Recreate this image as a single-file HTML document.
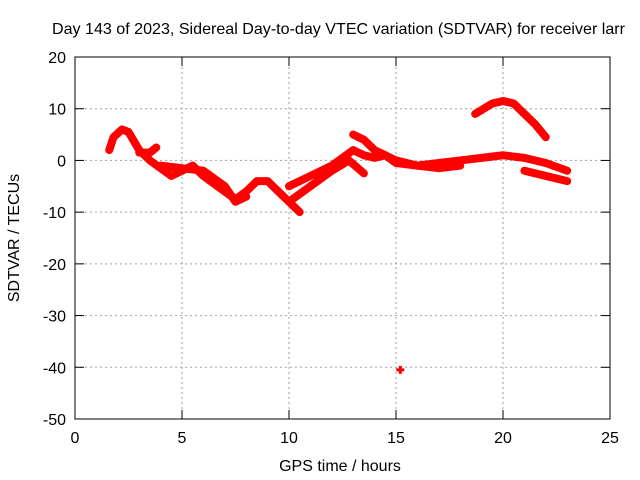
<!DOCTYPE html>
<html><head><meta charset="utf-8"><style>
body{margin:0;background:#fff}
svg{display:block;font-family:"Liberation Sans",sans-serif}
</style></head><body>
<svg id="chart" width="640" height="480" viewBox="0 0 640 480">
<rect width="640" height="480" fill="#fff"/>
<text x="52" y="34" font-size="16" textLength="573" lengthAdjust="spacingAndGlyphs">Day 143 of 2023, Sidereal Day-to-day VTEC variation (SDTVAR) for receiver larr</text>
<g id="grid"></g>
<g id="ticks" font-size="16"></g>
<g id="series"></g>
<rect x="75" y="57" width="535" height="362" fill="none" stroke="#000" stroke-width="1"/>
<text x="340" y="471" text-anchor="middle" font-size="16">GPS time / hours</text>
<text transform="translate(19,238) rotate(-90)" text-anchor="middle" font-size="16">SDTVAR / TECUs</text>
</svg>
<script>
const xTicks=[0,5,10,15,20,25];
const yTicks=[20,10,0,-10,-20,-30,-40,-50];
const trackA=[[1.6,2],[1.8,4.5],[2.2,6],[2.5,5.5],[3,2],[3.5,0],[4,-1.5],[4.5,-3],[5,-2],[5.5,-1],[6,-3],[6.5,-4.5],[7,-6],[7.5,-7.5],[8,-6],[8.5,-4],[9,-4],[9.5,-6],[10,-8],[10.5,-10]];
const trackB=[[3,1.5],[3.5,1.5],[3.8,2.5]];
const trackC=[[4,-1],[5,-1.5],[6,-2],[6.5,-3.5],[7,-5],[7.5,-8],[8,-7]];
const trackD=[[10,-5],[11,-3],[12,-1],[12.5,0.5],[13,2],[13.5,1],[14,0.5],[14.5,1],[15,-0.5],[16,-1],[17,-0.5],[18,0],[19,0.5],[20,1],[21,0.5],[22,-0.5],[23,-2]];
const trackE=[[10,-8],[11,-5],[12,-2],[12.8,0],[13.5,-2.5]];
const trackF=[[13,5],[13.5,4],[14,2],[14.5,1],[15,0],[16,-1],[17,-1.5],[18,-1]];
const trackG=[[21,-2],[22,-3],[23,-4]];
const trackH=[[18.7,9],[19.5,11],[20,11.5],[20.5,11],[21,9],[21.5,7],[22,4.5]];
const outlier=[[15.2,-40.5]];
const tracks=[trackA,trackB,trackC,trackD,trackE,trackF,trackG,trackH];
const X=h=>75+h*535/25, Y=v=>57+(20-v)*362/70;
const NS="http://www.w3.org/2000/svg";
const g=document.getElementById('grid'),t=document.getElementById('ticks'),s=document.getElementById('series');
function mk(tag,at,p){const e=document.createElementNS(NS,tag);for(const k in at)e.setAttribute(k,at[k]);p.appendChild(e);return e;}
xTicks.forEach(v=>{const x=X(v);
 if(v>0&&v<25){const l=mk('line',{x1:x,x2:x,y1:57,y2:419,stroke:'#a0a0a0','stroke-dasharray':'2,3'},g);
 
 }
 mk('line',{x1:x,x2:x,y1:419,y2:410,stroke:'#000'},t);mk('line',{x1:x,x2:x,y1:57,y2:66,stroke:'#000'},t);
 const tx=mk('text',{x:x,y:443,'text-anchor':'middle'},t);tx.textContent=v;
 
 });
yTicks.forEach(v=>{const y=Y(v);
 if(v<20&&v>-50){const l=mk('line',{x1:75,x2:610,y1:y,y2:y,stroke:'#a0a0a0','stroke-dasharray':'2,3'},g);
 
 }
 mk('line',{x1:75,x2:84,y1:y,y2:y,stroke:'#000'},t);mk('line',{x1:610,x2:601,y1:y,y2:y,stroke:'#000'},t);
 const tx=mk('text',{x:66,y:y+6,'text-anchor':'end'},t);tx.textContent=v;
 
 });
tracks.forEach(tr=>{const p=mk('polyline',{points:tr.map(d=>X(d[0])+','+Y(d[1])).join(' '),fill:'none',stroke:'#f00','stroke-width':8,'stroke-linejoin':'round','stroke-linecap':'round'},s);
 
 });
outlier.forEach(d=>{const p=mk('path',{d:`M${X(d[0])-4},${Y(d[1])}h8M${X(d[0])},${Y(d[1])-4}v8`,stroke:'#f00','stroke-width':3},s);
 
 });
</script>
</body></html>
